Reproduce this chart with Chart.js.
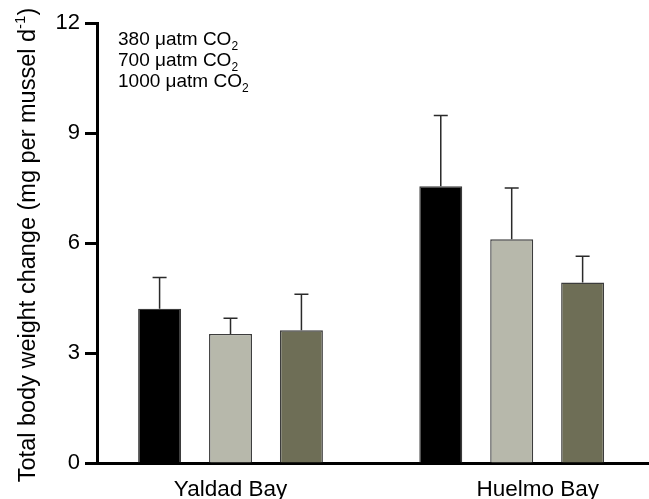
<!DOCTYPE html>
<html><head><meta charset="utf-8">
<script src="https://cdn.jsdelivr.net/npm/chart.js@4"></script>
<style>html,body{margin:0;padding:0;background:#fff;} canvas{display:block;}</style>
</head><body>
<canvas id="c" width="649" height="499"></canvas>
<script>
const categories = ['Yaldad Bay', 'Huelmo Bay'];
const categoryLabelPositions = [0, 1.093];
const seriesNames = ['380 μatm CO₂', '700 μatm CO₂', '1000 μatm CO₂'];
const mean380 = [4.21, 7.55];
const mean700 = [3.52, 6.10];
const mean1000 = [3.62, 4.92];
const err380 = [0.85, 1.93];
const err700 = [0.43, 1.40];
const err1000 = [0.98, 0.72];
const yTicks = [0, 3, 6, 9, 12];
const yTitle = 'Total body weight change (mg per mussel d';
const yTitleSup = '-1';
const yTitleEnd = ')';
const colors = ['#000000', '#b7b8ab', '#6e6e56'];

const FONT = '"Liberation Sans", Arial, sans-serif';
const means = [mean380, mean700, mean1000];
const errs = [err380, err700, err1000];

const datasets = means.map((m, i) => ({
  label: seriesNames[i],
  data: m.map((v, j) => ({x: j, y: v})),
  backgroundColor: colors[i],
  borderColor: '#3c3c3c',
  borderWidth: 1.4,
  errs: errs[i],
  categoryPercentage: 0.7567,
  barPercentage: 0.6056
}));

const errorBars = {
  id: 'errorBars',
  afterDatasetsDraw(chart) {
    const ctx = chart.ctx; const y = chart.scales.y;
    ctx.save(); ctx.strokeStyle = '#2a2a2a'; ctx.lineWidth = 1.5;
    chart.data.datasets.forEach((ds, i) => {
      chart.getDatasetMeta(i).data.forEach((bar, j) => {
        const top = y.getPixelForValue(ds.data[j].y + ds.errs[j]);
        const x = bar.x;
        ctx.beginPath();
        ctx.moveTo(x, bar.y); ctx.lineTo(x, top);
        ctx.moveTo(x - 7, top); ctx.lineTo(x + 7, top);
        ctx.stroke();
      });
    });
    ctx.restore();
  }
};

const texts = {
  id: 'texts',
  afterDraw(chart) {
    const ctx = chart.ctx;
    ctx.save();
    ctx.fillStyle = '#000';
    ctx.textBaseline = 'alphabetic';
    ctx.textAlign = 'left';
    seriesNames.forEach((name, i) => {
      const parts = name.split('₂');
      const x = 118, yb = 45 + i * 21;
      ctx.font = '19px ' + FONT;
      ctx.fillText(parts[0], x, yb);
      const w = ctx.measureText(parts[0]).width;
      ctx.font = '12px ' + FONT;
      ctx.fillText('2', x + w, yb + 5);
    });
    ctx.translate(35, 245);
    ctx.rotate(-Math.PI / 2);
    ctx.font = '23.5px ' + FONT;
    const w1 = ctx.measureText(yTitle).width;
    ctx.font = '15px ' + FONT;
    const w2 = ctx.measureText(yTitleSup).width;
    ctx.font = '23.5px ' + FONT;
    const w3 = ctx.measureText(yTitleEnd).width;
    let sx = -(w1 + w2 + w3) / 2;
    ctx.fillText(yTitle, sx, 0);
    ctx.font = '15px ' + FONT;
    ctx.fillText(yTitleSup, sx + w1, -10);
    ctx.font = '23.5px ' + FONT;
    ctx.fillText(yTitleEnd, sx + w1 + w2, 0);
    ctx.restore();
  }
};

new Chart(document.getElementById('c'), {
  type: 'bar',
  data: { datasets },
  plugins: [errorBars, texts],
  options: {
    responsive: false,
    animation: false,
    layout: { padding: { top: 23, right: 0, left: 0, bottom: 0 } },
    plugins: { legend: { display: false }, tooltip: { enabled: false } },
    scales: {
      x: {
        type: 'linear',
        offset: false,
        min: -0.4748, max: 1.4883,
        afterBuildTicks: s => { s.ticks = categoryLabelPositions.map(v => ({ value: v })); },
        ticks: { callback: (v, i) => categories[i], font: { size: 22.5, family: FONT }, color: '#000', padding: 5, autoSkip: false, maxRotation: 0 },
        grid: { display: false, offset: false },
        border: { display: true, width: 3, color: '#000' },
        afterFit: s => { s.height = 36; }
      },
      y: {
        min: 0, max: 12,
        afterBuildTicks: s => { s.ticks = yTicks.map(v => ({ value: v })); },
        ticks: { font: { size: 22, family: FONT }, color: '#000', padding: 5 },
        grid: { drawOnChartArea: false, drawTicks: true, tickLength: 12, tickWidth: 3, tickColor: '#000' },
        border: { display: true, width: 3, color: '#000' },
        afterFit: s => { s.width = 97; }
      }
    }
  }
});
</script>
</body></html>
